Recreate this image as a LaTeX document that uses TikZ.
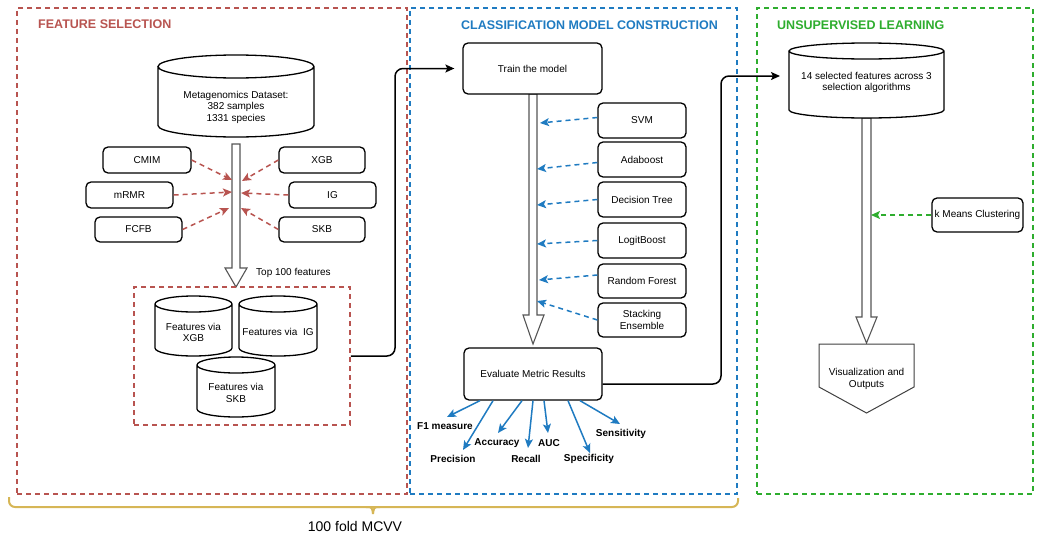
\documentclass[tikz,border=0pt]{standalone}
\usepackage{fontspec}
\setmainfont{Liberation Sans}
\usetikzlibrary{arrows.meta,calc}
\definecolor{cred}{HTML}{B85450}
\definecolor{cblue}{HTML}{1F7BC1}
\definecolor{cgreen}{HTML}{2EAD2E}
\definecolor{cgold}{HTML}{D6B656}
\definecolor{cshaft}{HTML}{555555}
\newcommand\dcyl[5]{\draw[cylst] (#1,-#2-#5) -- (#1,-#4+#5) arc[start angle=180,end angle=360,x radius={(#3-#1)/2},y radius=#5] -- (#3,-#2-#5) arc[start angle=0,end angle=360,x radius={(#3-#1)/2},y radius=#5];}
\newcommand\dblk[7]{\draw[shaftst] (#1,-#3) -- (#1,-#4) -- (#5,-#4) -- ({(#1+#2)/2},-#7) -- (#6,-#4) -- (#2,-#4) -- (#2,-#3) -- cycle;}
\tikzset{
  base/.style={font=\fontsize{10}{11.5}\selectfont, align=center, inner sep=0pt},
  rbox/.style={base, draw=black, line width=1.3pt, rounded corners=5pt, fill=white},
  container/.style={draw=#1, line width=1.5pt, dash pattern=on 5pt off 4pt, inner sep=0pt},
  titlest/.style={font=\fontsize{12.5}{14}\selectfont\bfseries, inner sep=0pt},
  cylst/.style={draw=black, line width=1.3pt, fill=white},
  shaftst/.style={draw=cshaft, line width=1.1pt, fill=white, line join=miter},
  redarr/.style={draw=cred, line width=1.5pt, dash pattern=on 5pt off 4pt, -{Stealth[length=9pt,width=8pt,inset=2pt]}},
  bluearr/.style={draw=cblue, line width=1.5pt, dash pattern=on 5pt off 4pt, -{Stealth[length=9pt,width=8pt,inset=2pt]}},
  greenarr/.style={draw=cgreen, line width=1.5pt, dash pattern=on 5pt off 4pt, -{Stealth[length=9pt,width=8pt,inset=2pt]}},
  metarr/.style={draw=cblue, line width=1.5pt, -{Stealth[length=9pt,width=8pt,inset=2pt]}},
  metric/.style={font=\fontsize{10}{12}\selectfont\bfseries, inner sep=0pt},
  conn/.style={draw=black, line width=1.5pt, rounded corners=8pt, -{Stealth[length=9pt,width=8pt,inset=2pt]}},
}
\begin{document}
\begin{tikzpicture}[x=1pt,y=1pt]
\useasboundingbox (0,0) rectangle (1039,-533);
% containers
\node[container=cred, minimum width=390pt, minimum height=486pt] (fsbox) at (212,-251) {};
\node[container=cblue, minimum width=327pt, minimum height=486pt] (cmbox) at (573.5,-251) {};
\node[container=cgreen, minimum width=276pt, minimum height=486pt] (ulbox) at (895,-251) {};
\node[titlest, text=cred, anchor=west] (t1) at (38,-24) {FEATURE SELECTION};
\node[titlest, text=cblue] (t2) at (589.5,-25) {CLASSIFICATION MODEL CONSTRUCTION};
\node[titlest, text=cgreen, anchor=west] (t3) at (777,-25) {UNSUPERVISED LEARNING};
% --- feature selection
\dblk{232}{240}{144}{268}{225}{247}{287}
\dcyl{158}{55}{314}{137}{11.5}
\node[base] (data) at (236,-107) {Metagenomics Dataset:\\382 samples\\1331 species};
\node[rbox, minimum width=88pt, minimum height=26pt] (cmim) at (147,-160) {CMIM};
\node[rbox, minimum width=86pt, minimum height=26pt] (xgb) at (322,-160) {XGB};
\node[rbox, minimum width=87pt, minimum height=26pt] (mrmr) at (129.5,-195) {mRMR};
\node[rbox, minimum width=87pt, minimum height=26pt] (ig) at (332.5,-195) {IG};
\node[rbox, minimum width=87pt, minimum height=25pt] (fcfb) at (138.5,-229.5) {FCFB};
\node[rbox, minimum width=86pt, minimum height=25pt] (skb) at (322,-229.5) {SKB};
\coordinate (ecmim) at (232,-180);
\coordinate (exgb) at (242,-181);
\coordinate (emrmr) at (232,-192);
\coordinate (eig) at (241,-193);
\coordinate (efcfb) at (229,-208);
\coordinate (eskb) at (241,-208);
\draw[redarr] (cmim.east) -- (ecmim);
\draw[redarr] (xgb.west) -- (exgb);
\draw[redarr] (mrmr.east) -- (emrmr);
\draw[redarr] (ig.west) -- (eig);
\draw[redarr] (fcfb.east) -- (efcfb);
\draw[redarr] (skb.west) -- (eskb);
\node[base, anchor=west] (top100) at (256,-273) {Top 100 features};
\node[container=cred, minimum width=216pt, minimum height=138pt] (topbox) at (242,-356) {};
\dcyl{155}{296}{232}{356}{8}
\node[base] (fxgb) at (193.5,-332.5) {Features via\\XGB};
\dcyl{239}{296}{317}{356}{8}
\node[base] (fig) at (278,-332) {Features via\ \ IG};
\dcyl{197}{357}{275}{417}{8}
\node[base] (fskb) at (236,-393) {Features via\\SKB};
% --- classification
\dblk{529}{537}{94}{315}{523}{544}{344}
\node[rbox, minimum width=139pt, minimum height=51pt] (train) at (532.5,-68.5) {Train the model};
\draw[conn, shorten >=8pt] (topbox.east) -- (395,-356) -- (395,-68.5) -- (train.west);
\node[rbox, minimum width=88pt, minimum height=35pt] (svm) at (642,-120.5) {SVM};
\node[rbox, minimum width=88pt, minimum height=35pt] (ada) at (642,-159.5) {Adaboost};
\node[rbox, minimum width=88pt, minimum height=35pt] (dt) at (642,-199.5) {Decision Tree};
\node[rbox, minimum width=88pt, minimum height=35pt] (lb) at (642,-240.5) {LogitBoost};
\node[rbox, minimum width=88pt, minimum height=34pt] (rf) at (642,-281) {Random Forest};
\node[rbox, minimum width=88pt, minimum height=34pt] (st) at (642,-320) {Stacking\\Ensemble};
\coordinate (esvm) at (540,-123);
\coordinate (eada) at (537,-169);
\coordinate (edt) at (537,-205);
\coordinate (elb) at (537,-244);
\coordinate (erf) at (539,-280);
\coordinate (est) at (537,-301);
\draw[bluearr] ([yshift=3pt]svm.west) -- (esvm);
\draw[bluearr] ([yshift=-3pt]ada.west) -- (eada);
\draw[bluearr] (dt.west) -- (edt);
\draw[bluearr] (lb.west) -- (elb);
\draw[bluearr] ([yshift=6pt]rf.west) -- (erf);
\draw[bluearr] (st.west) -- (est);
\node[rbox, minimum width=138pt, minimum height=52pt] (ev) at (533,-374) {Evaluate Metric Results};
\node[metric] (f1) at (445,-426) {F1 measure};
\node[metric] (prec) at (453,-459) {Precision};
\node[metric] (acc) at (497,-443) {Accuracy};
\node[metric] (rec) at (526,-459) {Recall};
\node[metric] (auc) at (549,-443) {AUC};
\node[metric] (spec) at (589,-459) {Specificity};
\node[metric] (sens) at (621,-434) {Sensitivity};
\coordinate (ef1) at (447,-417);
\coordinate (eprec) at (463,-450);
\coordinate (eacc) at (498,-433);
\coordinate (erec) at (528,-448);
\coordinate (eauc) at (548,-433);
\coordinate (espec) at (590,-453);
\coordinate (esens) at (620,-424);
\draw[metarr] ([xshift=-53pt]ev.south) -- (ef1);
\draw[metarr] ([xshift=-40pt]ev.south) -- (eprec);
\draw[metarr] ([xshift=-11pt]ev.south) -- (eacc);
\draw[metarr] (ev.south) -- (erec);
\draw[metarr] ([xshift=11pt]ev.south) -- (eauc);
\draw[metarr] ([xshift=35pt]ev.south) -- (espec);
\draw[metarr] ([xshift=47pt]ev.south) -- (esens);
% --- unsupervised
\dblk{862}{871}{118}{317}{856}{877}{343}
\dcyl{789}{43}{944}{118}{8}
\node[base] (sel) at (866.5,-82.5) {14 selected features across 3\\selection algorithms};
\coordinate (esel) at (780,-76);
\draw[conn] ([yshift=-10pt]ev.east) -- (721,-384) -- (721,-76) -- (esel);
\draw[draw=black!75, line width=1pt, fill=white] (819,-344) -- (914,-344) -- (914,-387) -- (866.5,-413) -- (819,-387) -- cycle;
\node[base] (vis) at (866.5,-379) {Visualization and\\Outputs};
\node[rbox, minimum width=91pt, minimum height=34pt] (km) at (977.5,-215) {k Means Clustering};
\coordinate (ekm) at (871,-215);
\draw[greenarr] (km.west) -- (ekm);
% --- brace
\draw[cgold, line width=2pt, rounded corners=6pt] (9,-497) -- (9,-507) -- (738,-507) -- (738,-498);
\draw[cgold, line width=2pt] (366,-507) .. controls (372,-507) .. (373,-514);
\draw[cgold, line width=2pt] (380,-507) .. controls (374,-507) .. (373,-514);
\node[base, font=\fontsize{14}{16}\selectfont] (mcvv) at (355,-526) {100 fold MCVV};
\end{tikzpicture}
\end{document}
